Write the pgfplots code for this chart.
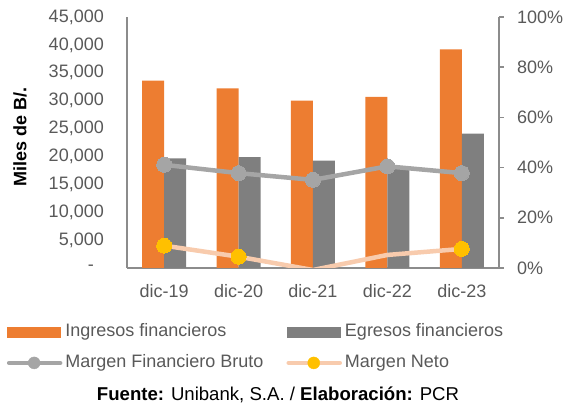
\documentclass[border=0pt]{standalone}
\usepackage{pgfplots}
\pgfplotsset{compat=1.18}
\usepackage{fontspec}
\setmainfont{Liberation Sans}
\definecolor{orangeC}{HTML}{ED7D31}
\definecolor{grayBar}{HTML}{7F7F7F}
\definecolor{grayLine}{HTML}{A5A5A5}
\definecolor{peach}{HTML}{F8CBAD}
\definecolor{gold}{HTML}{FFC000}
\definecolor{axisG}{HTML}{8C8C8C}
\definecolor{txt}{HTML}{595959}
\newcommand{\F}{\fontsize{18}{21}\selectfont}
\begin{document}
\begin{tikzpicture}
\useasboundingbox (-127pt,-136pt) rectangle (436pt,268pt);
\begin{axis}[
  at={(0pt,0pt)}, anchor=south west,
  scale only axis, width=372pt, height=251pt,
  xmin=-0.5, xmax=4.5, ymin=0, ymax=45000,
  axis x line*=bottom, axis y line*=left,
  axis line style={axisG, line width=1.5pt},
  ybar, bar width=22pt,
  scaled y ticks=false,
  xtick={0,1,2,3,4},
  xticklabels={dic-19,dic-20,dic-21,dic-22,dic-23},
  ytick={0,5000,10000,15000,20000,25000,30000,35000,40000,45000},
  yticklabels={{-\kern10pt},{5,000},{10,000},{15,000},{20,000},{25,000},{30,000},{35,000},{40,000},{45,000}},
  major tick length=0pt,
  xticklabel style={font=\F, color=txt, anchor=north, inner sep=0pt, yshift=-16.5pt},
  yticklabel style={font=\F, color=txt, anchor=east, inner sep=0pt, xshift=-23pt},
  ylabel={\textbf{Miles de B/.}},
  ylabel style={font=\F, color=black, at={(axis description cs:-0.2876,0.52)}, anchor=center},
  legend columns=2,
  legend cell align=left,
  legend style={draw=none, fill=none, font=\F, text=txt, inner sep=0pt,
    at={(axis description cs:-0.3234,-0.220)}, anchor=north west,
    nodes={inner sep=0pt, text height=13pt, text depth=4pt},
    /tikz/every odd column/.append style={column sep=3pt},
    /tikz/every even column/.append style={column sep=23pt},
    row sep=14pt},
]
\addplot[fill=orangeC, draw=none, forget plot, bar shift=-11pt] coordinates {(0,33600) (1,32200) (2,30000) (3,30700) (4,39200)};
\addplot[fill=grayBar, draw=none, forget plot, bar shift=11pt] coordinates {(0,19650) (1,19900) (2,19250) (3,18000) (4,24100)};
\addlegendimage{legend image code/.code={\fill[orangeC] (0pt,-5pt) rectangle (53pt,5pt);}}
\addlegendentry{Ingresos financieros}
\addlegendimage{legend image code/.code={\fill[grayBar] (0pt,-5pt) rectangle (53pt,5pt);}}
\addlegendentry{Egresos financieros}
\addlegendimage{legend image code/.code={\draw[grayLine, line width=4.5pt, line cap=round] (2pt,0pt) -- (53pt,0pt); \fill[grayLine] (27pt,0pt) circle (6pt);}}
\addlegendentry{Margen Financiero Bruto}
\addlegendimage{legend image code/.code={\draw[peach, line width=4.5pt, line cap=round] (2pt,0pt) -- (53pt,0pt); \fill[gold] (27pt,0pt) circle (6pt);}}
\addlegendentry{Margen Neto}
\end{axis}
\begin{axis}[
  at={(0pt,0pt)}, anchor=south west,
  scale only axis, width=372pt, height=251pt,
  xmin=-0.5, xmax=4.5, ymin=0, ymax=100,
  axis x line=none, axis y line*=right,
  axis line style={axisG, line width=1.5pt},
  ytick={0,20,40,60,80,100},
  yticklabels={0\%,20\%,40\%,60\%,80\%,100\%},
  tick align=outside, major tick length=5pt,
  every tick/.style={axisG, line width=1.5pt},
  yticklabel style={font=\F, color=txt, anchor=west, inner sep=0pt, xshift=13pt},
]
\addplot[grayLine, line width=4.5pt, mark=*, mark size=7.5pt, mark options={fill=grayLine, draw=grayLine, line width=0pt}]
  coordinates {(0,41.1) (1,37.8) (2,35.1) (3,40.5) (4,37.8)};
\addplot[peach, line width=4.5pt, mark=*, mark size=7.5pt, mark indices={1,2,4,5}, mark options={fill=gold, draw=gold, line width=0pt}]
  coordinates {(0,8.9) (1,4.5) (2,-0.8) (3,5.2) (4,7.6)};
\end{axis}
\node[anchor=base, font=\fontsize{18.6}{21}\selectfont, text=black] at (151pt,-132.5pt) {\textbf{Fuente:} Unibank, S.A. / \textbf{Elaboración:} PCR};
\end{tikzpicture}
\end{document}
